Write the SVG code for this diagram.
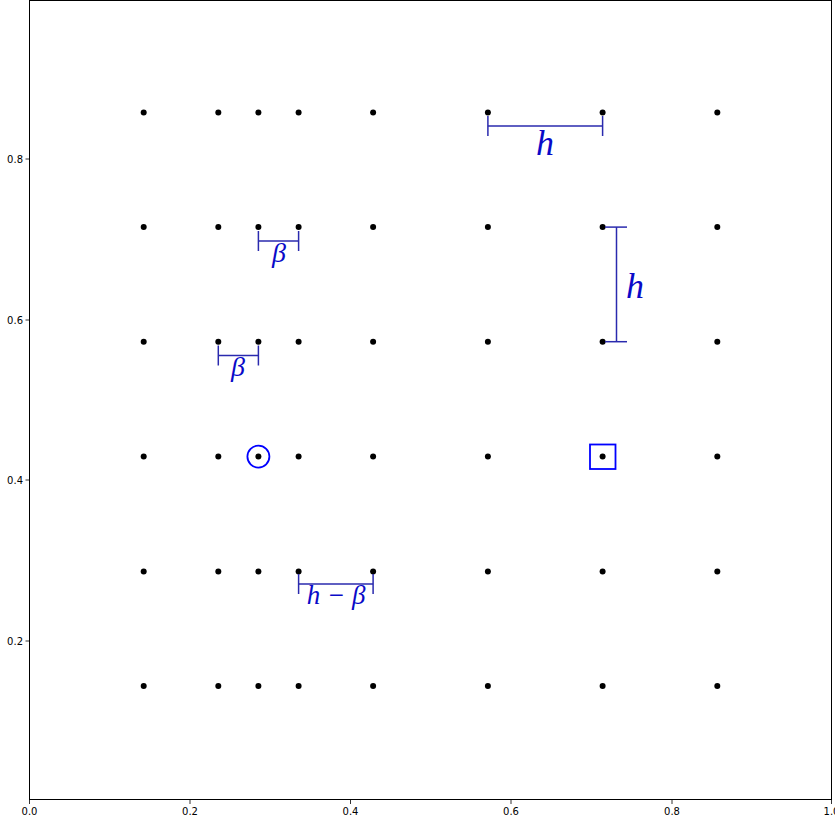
<svg xmlns="http://www.w3.org/2000/svg" width="835" height="817" viewBox="0 0 835 817">
<style>
.tick{stroke:#000;stroke-width:0.8}
.tl{font-family:"DejaVu Sans",sans-serif;font-size:10px;fill:#000}
.dot{fill:#000}
.dim{stroke:#2a2aae;stroke-width:1.5;fill:none}
.lab{font-family:"Liberation Serif","DejaVu Serif",serif;font-style:italic;fill:#0a0ac8}
.mk{stroke:#0000ff;stroke-width:1.8;fill:none}
</style>
<rect x="0" y="0" width="835" height="817" fill="#fff"/>
<g id="axes">
<rect x="29.5" y="0.5" width="802" height="799" fill="none" stroke="#000" stroke-width="1"/>
<g class="tick">
<line x1="29.5" y1="800" x2="29.5" y2="804"/>
<line x1="190" y1="800" x2="190" y2="804"/>
<line x1="350.5" y1="800" x2="350.5" y2="804"/>
<line x1="511" y1="800" x2="511" y2="804"/>
<line x1="672" y1="800" x2="672" y2="804"/>
<line x1="831.5" y1="800" x2="831.5" y2="804"/>
<line x1="25.5" y1="159" x2="29.5" y2="159"/>
<line x1="25.5" y1="320" x2="29.5" y2="320"/>
<line x1="25.5" y1="480" x2="29.5" y2="480"/>
<line x1="25.5" y1="641" x2="29.5" y2="641"/>
</g>
<g class="tl" text-anchor="middle">
<text x="29.5" y="815">0.0</text>
<text x="190" y="815">0.2</text>
<text x="350.5" y="815">0.4</text>
<text x="511" y="815">0.6</text>
<text x="672" y="815">0.8</text>
<text x="831.5" y="815">1.0</text>
</g>
<g class="tl" text-anchor="end">
<text x="23" y="163">0.8</text>
<text x="23" y="324">0.6</text>
<text x="23" y="484">0.4</text>
<text x="23" y="645">0.2</text>
</g>
</g>
<g id="points" class="dot">
<g id="row6"><circle cx="143.7" cy="112.6" r="3"/><circle cx="218.3" cy="112.6" r="3"/><circle cx="258.4" cy="112.6" r="3"/><circle cx="298.6" cy="112.6" r="3"/><circle cx="373.1" cy="112.6" r="3"/><circle cx="487.9" cy="112.6" r="3"/><circle cx="602.6" cy="112.6" r="3"/><circle cx="717.3" cy="112.6" r="3"/></g>
<g id="row5"><circle cx="143.7" cy="227.1" r="3"/><circle cx="218.3" cy="227.1" r="3"/><circle cx="258.4" cy="227.1" r="3"/><circle cx="298.6" cy="227.1" r="3"/><circle cx="373.1" cy="227.1" r="3"/><circle cx="487.9" cy="227.1" r="3"/><circle cx="602.6" cy="227.1" r="3"/><circle cx="717.3" cy="227.1" r="3"/></g>
<g id="row4"><circle cx="143.7" cy="341.7" r="3"/><circle cx="218.3" cy="341.7" r="3"/><circle cx="258.4" cy="341.7" r="3"/><circle cx="298.6" cy="341.7" r="3"/><circle cx="373.1" cy="341.7" r="3"/><circle cx="487.9" cy="341.7" r="3"/><circle cx="602.6" cy="341.7" r="3"/><circle cx="717.3" cy="341.7" r="3"/></g>
<g id="row3"><circle cx="143.7" cy="456.6" r="3"/><circle cx="218.3" cy="456.6" r="3"/><circle cx="258.4" cy="456.6" r="3"/><circle cx="298.6" cy="456.6" r="3"/><circle cx="373.1" cy="456.6" r="3"/><circle cx="487.9" cy="456.6" r="3"/><circle cx="602.6" cy="456.6" r="3"/><circle cx="717.3" cy="456.6" r="3"/></g>
<g id="row2"><circle cx="143.7" cy="571.5" r="3"/><circle cx="218.3" cy="571.5" r="3"/><circle cx="258.4" cy="571.5" r="3"/><circle cx="298.6" cy="571.5" r="3"/><circle cx="373.1" cy="571.5" r="3"/><circle cx="487.9" cy="571.5" r="3"/><circle cx="602.6" cy="571.5" r="3"/><circle cx="717.3" cy="571.5" r="3"/></g>
<g id="row1"><circle cx="143.7" cy="686" r="3"/><circle cx="218.3" cy="686" r="3"/><circle cx="258.4" cy="686" r="3"/><circle cx="298.6" cy="686" r="3"/><circle cx="373.1" cy="686" r="3"/><circle cx="487.9" cy="686" r="3"/><circle cx="602.6" cy="686" r="3"/><circle cx="717.3" cy="686" r="3"/></g>
</g>
<g id="markers">
<circle id="circle-mark" class="mk" cx="258.4" cy="456.6" r="11"/>
<rect id="square-mark" class="mk" x="590" y="444.5" width="25.5" height="24.5"/>
</g>
<g id="dimensions">
<g id="dim-h-horizontal" class="dim"><line x1="487.9" y1="126" x2="602.6" y2="126"/><line x1="487.9" y1="116" x2="487.9" y2="136"/><line x1="602.6" y1="116" x2="602.6" y2="136"/></g>
<g id="dim-h-vertical" class="dim"><line x1="616.5" y1="227.1" x2="616.5" y2="341.7"/><line x1="605" y1="227.1" x2="627" y2="227.1"/><line x1="605" y1="341.7" x2="627" y2="341.7"/></g>
<g id="dim-beta-top" class="dim"><line x1="258.4" y1="241" x2="298.6" y2="241"/><line x1="258.4" y1="231" x2="258.4" y2="251"/><line x1="298.6" y1="231" x2="298.6" y2="251"/></g>
<g id="dim-beta-low" class="dim"><line x1="218.3" y1="355.5" x2="258.4" y2="355.5"/><line x1="218.3" y1="345.5" x2="218.3" y2="365.5"/><line x1="258.4" y1="345.5" x2="258.4" y2="365.5"/></g>
<g id="dim-h-minus-beta" class="dim"><line x1="298.6" y1="584" x2="373.1" y2="584"/><line x1="298.6" y1="574" x2="298.6" y2="594"/><line x1="373.1" y1="574" x2="373.1" y2="594"/></g>
</g>
<g id="labels" class="lab" text-anchor="middle">
<text x="545" y="155" font-size="36">h</text>
<text x="635" y="298" font-size="36">h</text>
<text x="279" y="262" font-size="28">β</text>
<text x="238" y="376" font-size="28">β</text>
<text x="336" y="604" font-size="27">h − β</text>
</g>
</svg>
